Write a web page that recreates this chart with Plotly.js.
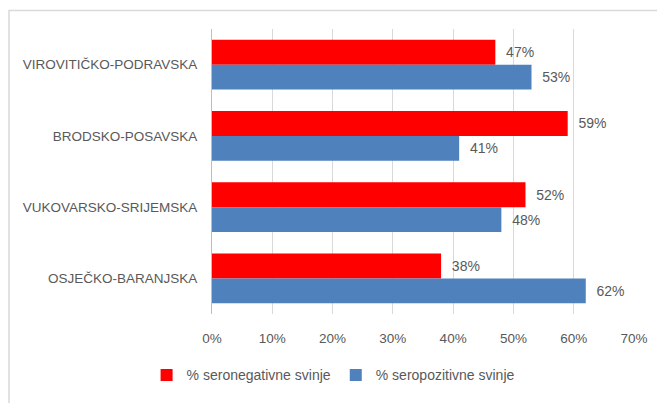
<!DOCTYPE html>
<html><head><meta charset="utf-8">
<script src="https://cdn.plot.ly/plotly-3.0.1.min.js"></script>
<style>html,body{margin:0;padding:0;background:#fff;}#chart{width:657px;height:403px;}</style>
</head><body><div id="chart"></div>
<script>
const categories = ['VIROVITIČKO-PODRAVSKA','BRODSKO-POSAVSKA','VUKOVARSKO-SRIJEMSKA','OSJEČKO-BARANJSKA'];
const seroNegative = [47, 59, 52, 38];
const seroPositive = [53, 41, 48, 62];
const seriesNames = ['% seronegativne svinje', '% seropozitivne svinje'];
const tickVals = [0,10,20,30,40,50,60,70];

const font = 'Liberation Sans, Arial, sans-serif';
const txt = '#595959';
const pad = '\u00a0\u00a0';
function mk(vals, name, color){
  return {type:'bar', orientation:'h', y:categories, x:vals, name:name,
    marker:{color:color, line:{width:0}},
    text: vals.map(v=>pad+v+'%'), textposition:'outside', cliponaxis:false,
    textfont:{family:font,size:14,color:txt}, hoverinfo:'skip'};
}
const data = [mk(seroNegative, seriesNames[0], '#FF0000'), mk(seroPositive, seriesNames[1], '#4F81BD')];
const layout = {
  width:657, height:403, margin:{l:212,r:23,t:29,b:81},
  paper_bgcolor:'#fff', plot_bgcolor:'#fff',
  barmode:'group', bargap:0.3, bargroupgap:0,
  font:{family:font,color:txt},
  xaxis:{range:[0,70], tickvals:tickVals, ticktext:tickVals.map(v=>v+'%'), showgrid:true, gridcolor:'#d9d9d9', gridwidth:1,
    zeroline:false, showline:false, ticks:'', ticklabelstandoff:14, tickfont:{family:font,size:13.5,color:txt}, fixedrange:true},
  yaxis:{autorange:'reversed', showline:true, linecolor:'#bfbfbf', linewidth:1, ticks:'', ticklabelstandoff:11,
    tickfont:{family:font,size:13.5,color:txt}, showgrid:false, fixedrange:true},
  legend:{orientation:'h', x:-0.155, xanchor:'left', y:-0.215, yanchor:'middle', traceorder:'normal',
    font:{family:font,size:14,color:txt}, itemwidth:30, bgcolor:'rgba(0,0,0,0)'},
  shapes:[{type:'rect', xref:'paper', yref:'paper', x0:(9-212)/422, x1:(665-212)/422, y0:(322-420)/293, y1:(322-10)/293,
    line:{color:'#d9d9d9', width:1.5}, fillcolor:'rgba(0,0,0,0)', layer:'below'}],
  showlegend:true
};
Plotly.newPlot('chart', data, layout, {displayModeBar:false, staticPlot:true});
</script></body></html>
